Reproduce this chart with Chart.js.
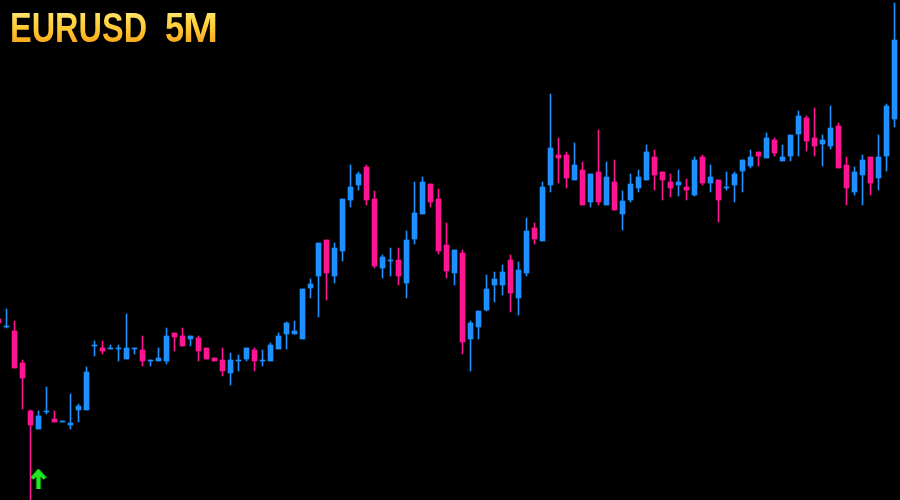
<!DOCTYPE html>
<html>
<head>
<meta charset="utf-8">
<script src="https://cdn.jsdelivr.net/npm/chart.js@4.4.1/dist/chart.umd.min.js"></script>
<style>
  html, body { margin: 0; padding: 0; background: #000; }
  #wrap { position: relative; width: 900px; height: 500px; background: #000; overflow: hidden; }
  #c { position: absolute; left: 0; top: 0; }
  #title { position: absolute; left: 0; top: 0; width: 240px; height: 60px; }
  #title span {
    position: absolute; top: 6px; transform-origin: 0 0;
    font-family: "Liberation Sans", Arial, sans-serif;
    font-weight: bold; font-size: 43px; line-height: 43px; white-space: pre;
    background: linear-gradient(to bottom, #fff0a0 0%, #ffd94c 30%, #ffc22e 60%, #f29a12 100%);
    -webkit-background-clip: text; background-clip: text; color: transparent;
  }
  #t1 { left: 10.3px; transform: scaleX(0.755); }
  #t2 { left: 164.5px; transform: scaleX(0.8); }
  #t3 { left: 183px; transform: scaleX(0.98); }
</style>
</head>
<body>
<div id="wrap">
  <canvas id="c" width="900" height="500"></canvas>
  <div id="title"><span id="t1">EURUSD </span><span id="t2">5</span><span id="t3">M</span></div>
</div>
<script>
// EURUSD 5-minute candles (oldest -> newest)
const opens = [1.08181,1.08173,1.08169,1.08137,1.08089,1.08071,1.08088,1.08081,1.08078,1.08075,
  1.08090,1.08090,1.08154,1.08152,1.08151,1.08151,1.08141,1.08151,1.08150,1.08139,
  1.08139,1.08139,1.08167,1.08164,1.08161,1.08162,1.08152,1.08142,1.08140,1.08127,
  1.08139,1.08141,1.08150,1.08139,1.08139,1.08151,1.08166,1.08166,1.08161,1.08212,
  1.08224,1.08260,1.08224,1.08249,1.08300,1.08315,1.08333,1.08301,1.08232,1.08239,
  1.08240,1.08217,1.08261,1.08286,1.08316,1.08301,1.08255,1.08227,1.08247,1.08161,
  1.08173,1.08190,1.08215,1.08215,1.08240,1.08202,1.08227,1.08272,1.08259,1.08315,
  1.08345,1.08345,1.08320,1.08330,1.08298,1.08328,1.08295,1.08318,1.08286,1.08300,
  1.08312,1.08320,1.08343,1.08328,1.08318,1.08315,1.08313,1.08305,1.08343,1.08317,
  1.08320,1.08312,1.08315,1.08329,1.08334,1.08348,1.08342,1.08360,1.08339,1.08344,
  1.08366,1.08382,1.08362,1.08356,1.08354,1.08374,1.08335,1.08308,1.08325,1.08343,
  1.08322,1.08344,1.08381];
const highs = [1.08183,1.08191,1.08179,1.08140,1.08090,1.08089,1.08113,1.08089,1.08079,1.08106,
  1.08096,1.08133,1.08159,1.08159,1.08155,1.08155,1.08186,1.08152,1.08164,1.08140,
  1.08152,1.08172,1.08167,1.08172,1.08164,1.08164,1.08152,1.08142,1.08152,1.08147,
  1.08145,1.08152,1.08152,1.08150,1.08157,1.08167,1.08178,1.08179,1.08211,1.08221,
  1.08257,1.08260,1.08257,1.08301,1.08335,1.08328,1.08335,1.08309,1.08245,1.08252,
  1.08252,1.08269,1.08318,1.08323,1.08316,1.08311,1.08277,1.08250,1.08250,1.08179,
  1.08189,1.08225,1.08228,1.08235,1.08245,1.08238,1.08282,1.08277,1.08318,1.08406,
  1.08362,1.08348,1.08357,1.08338,1.08326,1.08370,1.08338,1.08340,1.08309,1.08326,
  1.08330,1.08355,1.08350,1.08328,1.08326,1.08330,1.08321,1.08343,1.08345,1.08335,
  1.08320,1.08328,1.08328,1.08340,1.08350,1.08348,1.08367,1.08362,1.08355,1.08365,
  1.08389,1.08384,1.08392,1.08365,1.08394,1.08377,1.08343,1.08333,1.08345,1.08343,
  1.08365,1.08396,1.08497];
const lows = [1.08175,1.08172,1.08132,1.08091,1.07998,1.08071,1.08086,1.08078,1.08078,1.08071,
  1.08078,1.08090,1.08144,1.08146,1.08151,1.08139,1.08141,1.08146,1.08134,1.08134,
  1.08139,1.08136,1.08149,1.08154,1.08154,1.08139,1.08141,1.08139,1.08124,1.08115,
  1.08129,1.08139,1.08129,1.08134,1.08139,1.08151,1.08151,1.08166,1.08161,1.08202,
  1.08183,1.08200,1.08217,1.08239,1.08293,1.08310,1.08295,1.08232,1.08222,1.08224,
  1.08215,1.08202,1.08256,1.08286,1.08293,1.08246,1.08222,1.08215,1.08146,1.08129,
  1.08161,1.08189,1.08198,1.08205,1.08188,1.08185,1.08224,1.08256,1.08259,1.08308,
  1.08317,1.08312,1.08320,1.08295,1.08293,1.08295,1.08295,1.08290,1.08270,1.08298,
  1.08308,1.08320,1.08310,1.08300,1.08303,1.08304,1.08300,1.08304,1.08315,1.08308,
  1.08278,1.08310,1.08298,1.08308,1.08332,1.08334,1.08342,1.08344,1.08339,1.08339,
  1.08344,1.08349,1.08344,1.08334,1.08351,1.08332,1.08295,1.08305,1.08295,1.08305,
  1.08310,1.08329,1.08373];
const closes = [1.08177,1.08174,1.08132,1.08122,1.08075,1.08084,1.08089,1.08078,1.08079,1.08077,
  1.08094,1.08128,1.08155,1.08149,1.08152,1.08152,1.08152,1.08152,1.08139,1.08140,
  1.08142,1.08164,1.08163,1.08154,1.08164,1.08149,1.08141,1.08139,1.08129,1.08140,
  1.08140,1.08152,1.08139,1.08140,1.08155,1.08164,1.08177,1.08169,1.08211,1.08216,
  1.08257,1.08227,1.08252,1.08301,1.08313,1.08326,1.08300,1.08234,1.08243,1.08240,
  1.08224,1.08260,1.08287,1.08318,1.08298,1.08249,1.08229,1.08250,1.08158,1.08177,
  1.08189,1.08211,1.08221,1.08228,1.08207,1.08230,1.08269,1.08261,1.08313,1.08352,
  1.08342,1.08322,1.08335,1.08295,1.08326,1.08298,1.08323,1.08290,1.08299,1.08316,
  1.08323,1.08348,1.08325,1.08320,1.08312,1.08318,1.08310,1.08340,1.08317,1.08323,
  1.08300,1.08313,1.08326,1.08340,1.08343,1.08344,1.08362,1.08347,1.08343,1.08365,
  1.08384,1.08359,1.08354,1.08360,1.08372,1.08332,1.08312,1.08328,1.08340,1.08317,
  1.08343,1.08394,1.08460];
// buy signal arrow (candle index, price)
const signalIndex = [5];
const signalPrice = [1.08021];

const UP = '#1e8fff', DOWN = '#ff1493', SIGNAL = '#1fe81f';

const bodies = opens.map((o, i) => ({ x: i, y: [o, closes[i]] }));
const wicks = lows.map((l, i) => ({ x: i, y: [l, highs[i]] }));
const colorOf = ctx => {
  const i = ctx.dataIndex;
  return closes[i] >= opens[i] ? UP : DOWN;
};

// arrow marker image
const arrow = document.createElement('canvas');
arrow.width = 16; arrow.height = 20;
(() => {
  const g = arrow.getContext('2d');
  g.strokeStyle = SIGNAL; g.lineCap = 'butt'; g.lineJoin = 'miter';
  g.lineWidth = 4;
  g.beginPath(); g.moveTo(1.5, 9.5); g.lineTo(8, 2.5); g.lineTo(14.5, 9.5); g.stroke();
  g.lineWidth = 4.5;
  g.beginPath(); g.moveTo(8, 2); g.lineTo(8, 20); g.stroke();
})();

new Chart(document.getElementById('c'), {
  type: 'bar',
  data: {
    datasets: [
      { label: 'signal', type: 'scatter', order: 0,
        data: signalIndex.map((x, j) => ({ x, y: signalPrice[j] })),
        pointStyle: arrow, pointRadius: 10, showLine: false },
      { label: 'body', data: bodies, order: 1, grouped: false,
        barThickness: 5, backgroundColor: colorOf, borderWidth: 0, borderSkipped: false },
      { label: 'wick', data: wicks, order: 2, grouped: false,
        barThickness: 1, backgroundColor: colorOf, borderWidth: 0, borderSkipped: false }
    ]
  },
  options: {
    responsive: false, animation: false, devicePixelRatio: 1,
    layout: { padding: 0, autoPadding: false },
    plugins: { legend: { display: false }, tooltip: { enabled: false }, title: { display: false } },
    scales: {
      x: { type: 'linear', display: false, min: 0.1875, max: 112.6875, offset: false },
      y: { type: 'linear', display: false, min: 1.08000, max: 1.08500 }
    }
  }
});
</script>
</body>
</html>
